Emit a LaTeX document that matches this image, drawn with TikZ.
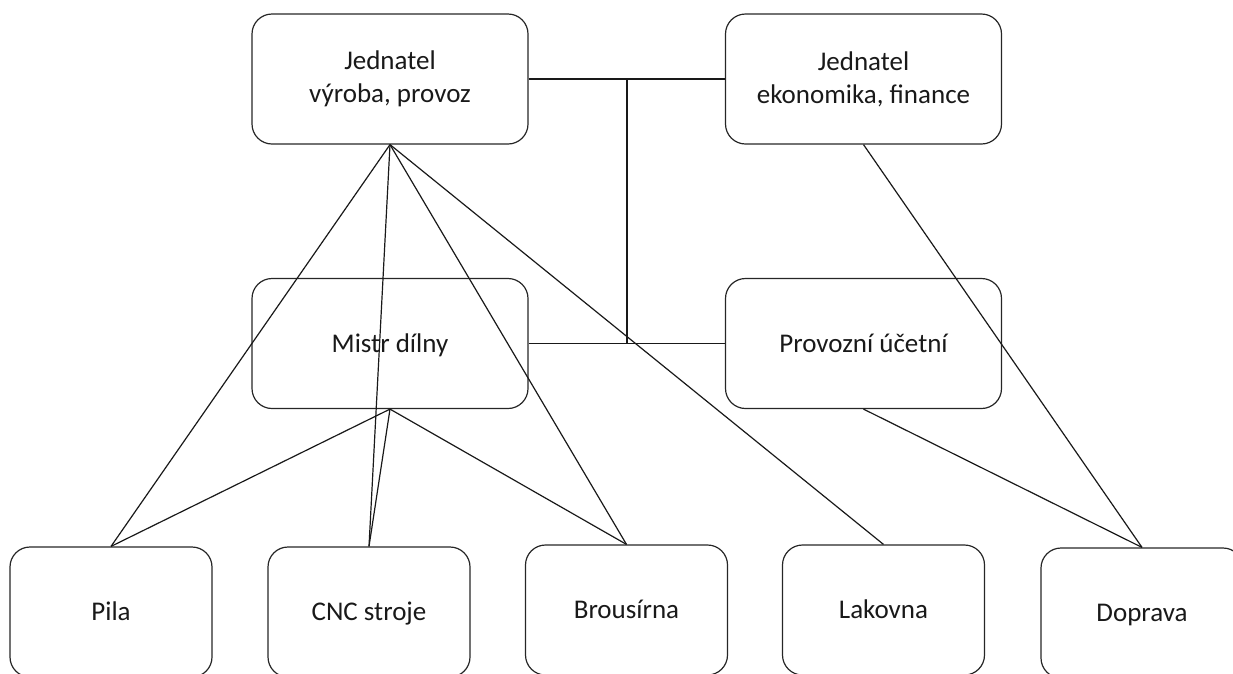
\documentclass[tikz,border=0pt]{standalone}
\usepackage{fontspec}
\setmainfont{Carlito}
\begin{document}
\begin{tikzpicture}[x=1pt,y=-1pt,
  box/.style={draw=black!85,line width=1.2pt,rounded corners=20pt,align=center,
    font=\fontsize{27}{33}\selectfont,text=black!90,inner sep=0pt},
  oneline/.style={text height=21pt,text depth=4pt},
  topbox/.style={box,minimum width=276pt,minimum height=130pt},
  botbox/.style={box,oneline,minimum width=202pt,minimum height=130pt},
  link/.style={draw=black!90,line width=1.2pt}]
\useasboundingbox (0,0) rectangle (1233,673);
\clip (0,0) rectangle (1233,673);
\node[topbox] (jv) at (390,79) {Jednatel\\výroba, provoz};
\node[topbox] (je) at (863.5,79) {Jednatel\\ekonomika, finance};
\node[topbox,oneline] (m) at (390,343.5) {Mistr dílny};
\node[topbox,oneline] (pu) at (863.5,343.5) {Provozní účetní};
\node[botbox] (pila) at (111,612) {Pila};
\node[botbox] (cnc) at (369,612) {CNC stroje};
\node[botbox] (br) at (626.5,610) {Brousírna};
\node[botbox] (lak) at (883.5,610) {Lakovna};
\node[botbox] (dop) at (1142,613) {Doprava};
\coordinate (j1) at (627,79);
\coordinate (j2) at (627,344);
\draw[link] (jv.east) -- (je.west);
\draw[link] (m.east) -- (pu.west);
\draw[link] (j1) -- (j2);
\draw[link] (jv.south) -- (pila.north);
\draw[link] (jv.south) -- (cnc.north);
\draw[link] (jv.south) -- (br.north);
\draw[link] (jv.south) -- (lak.north);
\draw[link] (m.south) -- (pila.north);
\draw[link] (m.south) -- (cnc.north);
\draw[link] (m.south) -- (br.north);
\draw[link] (je.south) -- (dop.north);
\draw[link] (pu.south) -- (dop.north);
\end{tikzpicture}
\end{document}
